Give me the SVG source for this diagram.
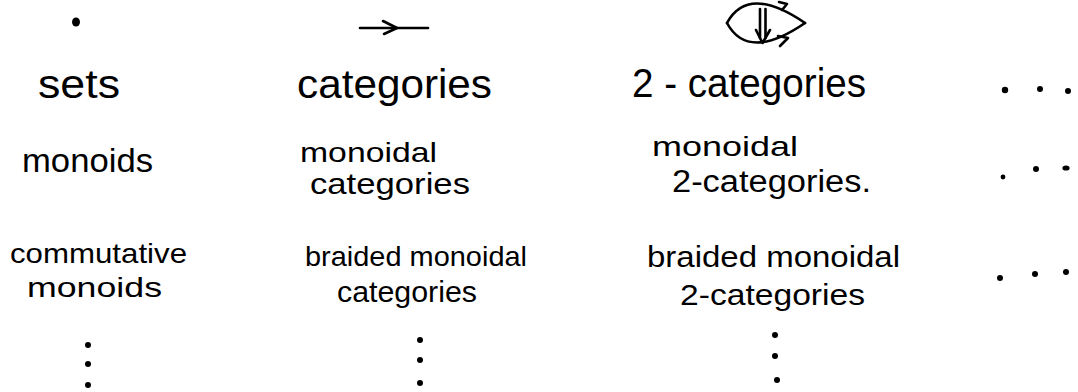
<svg xmlns="http://www.w3.org/2000/svg" width="1078" height="392" viewBox="0 0 1078 392">
  <style>
    .t { font-family: "Liberation Sans", "DejaVu Sans", sans-serif; fill: #000; }
    .ink { fill: none; stroke: #000; stroke-width: 2.6; stroke-linecap: round; stroke-linejoin: round; }
    .dot { fill: #000; }
  </style>
  <rect width="1078" height="392" fill="#fff"/>

  <!-- column headers: point, arrow, 2-cell -->
  <g id="hdr-point">
    <ellipse class="dot" cx="76" cy="22" rx="4" ry="4.5"/>
  </g>
  <g id="hdr-arrow">
    <path class="ink" d="M360 28 L428 28"/>
    <path class="ink" d="M383 21 L397 28 L384 34"/>
  </g>
  <g id="hdr-2cell">
    <path class="ink" d="M727 23 Q748 -16 805 23"/>
    <path class="ink" d="M727 23 Q748 62 805 23"/>
    <path class="ink" d="M779 2 L787 4 L782 10"/>
    <path class="ink" d="M778 36 L788 38 L780 46"/>
    <path class="ink" d="M760 9 L760 38 M765.5 9 L765.5 38"/>
    <path class="ink" d="M756 30 L762.5 43 L770 30"/>
  </g>

  <!-- row 1 -->
  <g id="sets"><text class="t" x="38" y="98" font-size="40" textLength="82" lengthAdjust="spacingAndGlyphs">sets</text></g>
  <g id="categories"><text class="t" x="297" y="98" font-size="40" textLength="195" lengthAdjust="spacingAndGlyphs">categories</text></g>
  <g id="two-categories"><text class="t" x="632" y="97" font-size="40" textLength="234" lengthAdjust="spacingAndGlyphs">2 - categories</text></g>
  <g id="row1-more">
    <circle class="dot" cx="1005" cy="90" r="3.2"/>
    <circle class="dot" cx="1040" cy="89" r="3"/>
    <circle class="dot" cx="1068" cy="91" r="3"/>
  </g>

  <!-- row 2 -->
  <g id="monoids"><text class="t" x="22" y="172" font-size="34" textLength="131" lengthAdjust="spacingAndGlyphs">monoids</text></g>
  <g id="monoidal-categories">
    <text class="t" x="300" y="162" font-size="28" textLength="137" lengthAdjust="spacingAndGlyphs">monoidal</text>
    <text class="t" x="310" y="194" font-size="29" textLength="160" lengthAdjust="spacingAndGlyphs">categories</text>
  </g>
  <g id="monoidal-2-categories">
    <text class="t" x="652" y="156" font-size="28" textLength="146" lengthAdjust="spacingAndGlyphs">monoidal</text>
    <text class="t" x="672" y="192" font-size="31" textLength="199" lengthAdjust="spacingAndGlyphs">2-categories.</text>
  </g>
  <g id="row2-more">
    <circle class="dot" cx="1003" cy="177" r="2.4"/>
    <circle class="dot" cx="1036" cy="169" r="3"/>
    <ellipse class="dot" cx="1066" cy="168" rx="3.6" ry="2.6"/>
  </g>

  <!-- row 3 -->
  <g id="commutative-monoids">
    <text class="t" x="10" y="263" font-size="28" textLength="177" lengthAdjust="spacingAndGlyphs">commutative</text>
    <text class="t" x="27" y="297" font-size="28" textLength="135" lengthAdjust="spacingAndGlyphs">monoids</text>
  </g>
  <g id="braided-monoidal-categories">
    <text class="t" x="305" y="266" font-size="28" textLength="222" lengthAdjust="spacingAndGlyphs">braided monoidal</text>
    <text class="t" x="337" y="302" font-size="30" textLength="140" lengthAdjust="spacingAndGlyphs">categories</text>
  </g>
  <g id="braided-monoidal-2-categories">
    <text class="t" x="647" y="267" font-size="30" textLength="253" lengthAdjust="spacingAndGlyphs">braided monoidal</text>
    <text class="t" x="680" y="305" font-size="30" textLength="185" lengthAdjust="spacingAndGlyphs">2-categories</text>
  </g>
  <g id="row3-more">
    <circle class="dot" cx="1000" cy="278" r="3"/>
    <circle class="dot" cx="1035" cy="274" r="3"/>
    <circle class="dot" cx="1066" cy="272" r="3"/>
  </g>

  <!-- downward continuation under each column -->
  <g id="col1-more">
    <circle class="dot" cx="88" cy="345" r="3"/>
    <circle class="dot" cx="88" cy="364" r="3"/>
    <circle class="dot" cx="88" cy="385" r="3"/>
  </g>
  <g id="col2-more">
    <circle class="dot" cx="420" cy="340" r="3"/>
    <circle class="dot" cx="420" cy="360" r="3"/>
    <circle class="dot" cx="420" cy="383" r="3"/>
  </g>
  <g id="col3-more">
    <circle class="dot" cx="775" cy="335" r="3"/>
    <circle class="dot" cx="775" cy="356" r="3"/>
    <circle class="dot" cx="777" cy="380" r="3"/>
  </g>
</svg>
